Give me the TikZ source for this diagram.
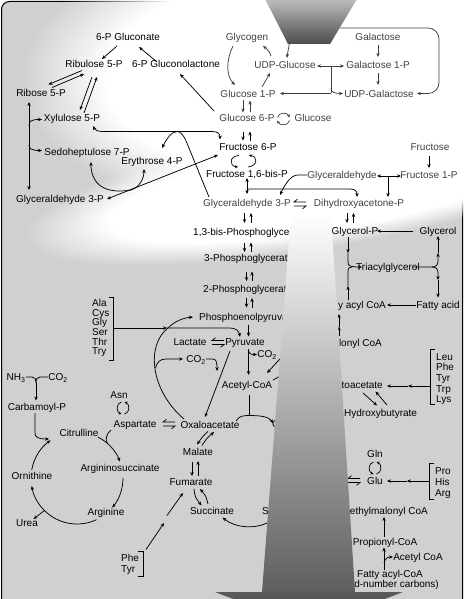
\documentclass[tikz,border=0pt]{standalone}
\usepackage{fontspec}
\setmainfont{Liberation Sans}
\usetikzlibrary{arrows.meta,fadings,calc}
\definecolor{bg}{HTML}{D0D0D0}
\definecolor{gt}{HTML}{404040}
\definecolor{conebot}{HTML}{5E5E5E}
\definecolor{headtop}{HTML}{5A5A5A}
\definecolor{headbot}{HTML}{454545}
\definecolor{funtop}{HTML}{BEBEBE}
\definecolor{funbot}{HTML}{4C4C4C}
\pgfdeclareradialshading{glowshade}{\pgfpointorigin}{color(0bp)=(white); color(18bp)=(white); color(25bp)=(black); color(50bp)=(black)}
\pgfdeclarefading{glowfade}{\pgfuseshading{glowshade}}
\begin{document}
\begin{tikzpicture}[x=1pt,y=-1pt,
  >={Stealth[length=4pt,width=3.4pt]},
  lb/.style={font=\fontsize{10}{10}\selectfont, text height=7.2pt, text depth=0pt, inner sep=1pt},
  gl/.style={lb, text=gt},
  ln/.style={line width=0.75pt},
  arr/.style={ln,->},
  darr/.style={ln,<->},
  garr/.style={arr,draw=gt},
  gln/.style={ln,draw=gt},
  gdarr/.style={darr,draw=gt},
  sarr/.style={line width=0.7pt,-{Stealth[length=3pt,width=2.8pt]}},
  eqp/.pic={\draw[line width=0.7pt] (6,-2) -- (-6,-2) -- (-2.5,-4.8);
            \draw[line width=0.7pt] (-6,2) -- (6,2) -- (2.5,4.8);},
  cycv/.pic={\draw[sarr] (-1.5,-6) .. controls (-7,-5) and (-7,4) .. (-1.5,6);
             \draw[sarr] (1.5,6) .. controls (7,5) and (7,-4) .. (1.5,-6);},
  cych/.pic={\draw[sarr] (-6,-1.5) .. controls (-5,-7) and (4,-7) .. (6,-1.5);
             \draw[sarr] (6,1.5) .. controls (5,7) and (-4,7) .. (-6,1.5);}
]
\useasboundingbox (0,0) rectangle (465,599);
% background
\fill[white] (0,0) rectangle (465,599);
\fill[bg, rounded corners=8] (1.5,612) -- (1.5,1.5) -- (462.5,1.5) -- (462.5,612) -- cycle;
\draw[line width=1pt, rounded corners=8] (1.5,612) -- (1.5,1.5) -- (462.5,1.5) -- (462.5,612);
% glows
\fill[white, path fading=glowfade] (330,78) ellipse [x radius=310, y radius=150];
\begin{scope}[transform canvas={rotate around={10:(330,184)}}]
\fill[white, path fading=glowfade] (330,184) ellipse [x radius=310, y radius=62];
\end{scope}

% ---------------- nodes
\node[gl] (glycogen) at (247,37) {Glycogen};
\node[gl] (udpglc) at (285,65) {UDP-Glucose};
\node[gl] (galactose) at (378,37) {Galactose};
\node[gl] (gal1p) at (378,65) {Galactose 1-P};
\node[gl] (udpgal) at (379,94) {UDP-Galactose};
\node[gl] (g1p) at (248,94) {Glucose 1-P};
\node[gl] (g6p) at (247,118) {Glucose 6-P};
\node[gl] (glucose) at (313,118) {Glucose};
\node[lb] (pgn) at (128,37) {6-P Gluconate};
\node[lb] (ru5p) at (94,64) {Ribulose 5-P};
\node[lb] (pgl) at (176,64) {6-P Gluconolactone};
\node[lb] (r5p) at (41,93) {Ribose 5-P};
\node[lb] (xu5p) at (72,118) {Xylulose 5-P};
\node[lb] (s7p) at (87,152) {Sedoheptulose 7-P};
\node[lb] (e4p) at (152,161) {Erythrose 4-P};
\node[lb] (g3pl) at (60,199) {Glyceraldehyde 3-P};
\node[lb] (f6p) at (248,147) {Fructose 6-P};
\node[lb] (f16bp) at (247,174) {Fructose 1,6-bis-P};
\node[gl] (g3p) at (247,203) {Glyceraldehyde 3-P};
\node[gl] (dhap) at (359,203) {Dihydroxyacetone-P};
\node[gl] (glyald) at (342,175) {Glyceraldehyde};
\node[gl] (f1p) at (429,175) {Fructose 1-P};
\node[gl] (fru) at (430,147) {Fructose};
\node[lb,anchor=west] (bpg) at (192,232) {1,3-bis-Phosphoglycer};
\node[lb,anchor=west] (pg3) at (203,258) {3-Phosphoglycerat};
\node[lb,anchor=west] (pg2) at (202,289) {2-Phosphoglycerat};
\node[lb,anchor=west] (pep) at (198,317) {Phosphoenolpyruva};
\node[lb] (glyp) at (355,231) {Glycerol-P};
\node[lb] (glycerol) at (438,231) {Glycerol};
\node[lb] (tag) at (388,267) {Triacylglycerol};
\node[lb,anchor=east] (acyl) at (387,305) {y acyl CoA};
\node[lb] (fa) at (438,305) {Fatty acid};
\node[lb,anchor=east] (malonyl) at (383,343) {lonyl CoA};
\node[lb] (pyr) at (245,342) {Pyruvate};
\node[lb] (lac) at (190,342) {Lactate};
\node[lb] (co2a) at (196,359) {CO\textsubscript{2}};
\node[lb] (co2b) at (267,354) {CO\textsubscript{2}};
\node[lb] (accoa) at (247,385) {Acetyl-CoA};
\node[lb,anchor=east] (acac) at (384,385) {toacetate};
\node[lb,anchor=west] (hbut) at (343,413) {Hydroxybutyrate};
\node[lb,anchor=west] (leu) at (435,356.5) {Leu};
\node[lb,anchor=west] (phea) at (435,367.2) {Phe};
\node[lb,anchor=west] (tyra) at (435,377.9) {Tyr};
\node[lb,anchor=west] (trp) at (435,388.6) {Trp};
\node[lb,anchor=west] (lys) at (435,399.3) {Lys};
\node[lb] (gln) at (375,454) {Gln};
\node[lb] (glu) at (375,481) {Glu};
\node[lb,anchor=west] (pro) at (434,470.7) {Pro};
\node[lb,anchor=west] (his) at (434,481.5) {His};
\node[lb,anchor=west] (arga) at (434,492.5) {Arg};
\node[lb,anchor=east] (mmcoa) at (429,511) {ethylmalonyl CoA};
\node[lb] (propcoa) at (385,542) {Propionyl-CoA};
\node[lb] (accoa2) at (418,557) {Acetyl CoA};
\node[lb] (facoa) at (390,574) {Fatty acyl-CoA};
\node[lb,anchor=east] (odd) at (440,584) {d-number carbons)};
\node[lb] (succ) at (212,511) {Succinate};
\node[lb,anchor=west] (succs) at (261,511) {S};
\node[lb] (fum) at (191,482) {Fumarate};
\node[lb] (mal) at (198,452) {Malate};
\node[lb] (oaa) at (210,425) {Oxaloacetate};
\node[lb,anchor=west] (cit) at (271,424) {C};
\node[lb] (asp) at (135,424) {Aspartate};
\node[lb] (asn) at (119,395) {Asn};
\node[lb] (citr) at (79,433) {Citrulline};
\node[lb] (carbp) at (37,407) {Carbamoyl-P};
\node[lb] (nh3) at (16,377) {NH\textsubscript{3}};
\node[lb] (co2c) at (58,377) {CO\textsubscript{2}};
\node[lb] (argsuc) at (120,468) {Argininosuccinate};
\node[lb] (orn) at (32,476) {Ornithine};
\node[lb] (argn) at (106,512) {Arginine};
\node[lb] (urea) at (27,523) {Urea};
\node[lb,anchor=west] (pheb) at (120,558) {Phe};
\node[lb,anchor=west] (tyrb) at (120,569) {Tyr};
\node[lb,anchor=west] (ala) at (91,303) {Ala};
\node[lb,anchor=west] (cys) at (91,312.6) {Cys};
\node[lb,anchor=west] (gly) at (91,322.2) {Gly};
\node[lb,anchor=west] (ser) at (91,331.8) {Ser};
\node[lb,anchor=west] (thr) at (91,341.4) {Thr};
\node[lb,anchor=west] (try) at (91,351) {Try};

% ---------------- glycogen / galactose (grey)
\draw[garr] (233,46) .. controls (226,60) and (226,76) .. (235,85);
\draw[garr] (262,87) -- (270,73);
\draw[garr] (271,56) .. controls (270,52) and (267,49) .. (263,46);
\draw[garr] (290,40) .. controls (288,48) .. (287,58);
\draw[gdarr] (317,66) -- (344,66);
\draw[gln] (331,66) -- (331,93.5);
\draw[garr] (331,93.5) -- (280,93.5);
\draw[garr] (331,88) .. controls (331,92) and (334,93.5) .. (343,93.5);
\draw[garr] (378,45) -- (378,57);
\draw[garr] (378,73) -- (378,85);
\draw[garr, rounded corners=11] (340,28) -- (439,28) -- (439,93.5) -- (417,93.5);
\draw[garr] (243,100.5) -- (243,112.5);
\draw[garr] (250,112.5) -- (250,100.5);
\pic[gt] at (283.5,119) {cych};

% ---------------- pentose phosphate
\draw[arr] (214,111) -- (180,74);
\draw[arr] (157,62) -- (139,47);
\draw[arr] (117,46) -- (102,59);
\draw[arr] (82,70.5) -- (48.5,84.5);
\draw[arr] (52,87.5) -- (84,74);
\draw[arr] (92,77) -- (80,110);
\draw[arr] (84,113) -- (97,77);
\draw[darr] (29,102) -- (29,190);
\draw[arr] (29,126) .. controls (29,121) and (31,119.5) .. (42,119.5);
\draw[arr] (29,145) .. controls (29,149) and (32,150.5) .. (42,150.5);
\draw[darr] (93,126) .. controls (95,130) and (97,131.5) .. (103,131.5) -- (212,131.5) .. controls (218,131.5) and (220,134) .. (220,139.5);
\draw[arr] (209,197) -- (186.5,142) .. controls (183,134) and (180,131.5) .. (177,131.5) .. controls (172,131.5) and (167,138) .. (162,148);
\draw[darr] (107,199) -- (218,155);
\draw[arr] (131,190) .. controls (101,195) and (91,181) .. (91,162);
\draw[arr] (131,190) .. controls (140,187) and (144,178) .. (144,169);

% ---------------- glycolysis
\draw[arr] (243,131.5) -- (243,140.5);
\draw[arr] (250,140.5) -- (250,131.5);
\draw[sarr] (239,155.5) .. controls (229,156) and (229,166) .. (238,167);
\draw[sarr] (248,167) .. controls (258,166) and (258,156) .. (249,155.5);
\draw[darr] (247,178) -- (247,194);
\draw[arr] (247,189) -- (350,189) .. controls (355,189) and (357,191) .. (357,197);
\draw[arr] (307,175) -- (298,175) .. controls (291,175) and (285,184) .. (280,195);
\draw[darr] (377,176) -- (401,176);
\draw[arr] (388,176) -- (388,197);
\draw[arr] (429,156) -- (429,168);
\pic at (300,204) {eqp};
\draw[arr] (244.5,213) -- (244.5,223);
\draw[arr] (251,223) -- (251,213);
\draw[arr] (244.5,242.5) -- (244.5,252);
\draw[arr] (251,252) -- (251,242.5);
\draw[arr] (246.5,271.5) -- (246.5,281);
\draw[arr] (252,281) -- (252,271.5);
\draw[arr] (246.5,298) -- (246.5,307.5);
\draw[arr] (252,307.5) -- (252,298);
\draw[arr] (248.5,324.5) -- (248.5,336.5);

% ---------------- glycerol / lipids
\draw[arr] (347,213) -- (347,223);
\draw[arr] (353.5,223) -- (353.5,213);
\draw[arr] (413,231) -- (377,231);
\draw[arr] (348,237) -- (348,253);
\draw[arr] (348,253) -- (348,262) .. controls (348,266) and (350,267) .. (362,267);
\draw[arr] (348,300) -- (348,286);
\draw[ln] (348,286) -- (348,272) .. controls (348,268) and (349,267) .. (352,267);
\draw[arr] (413,267) -- (432,267) .. controls (436,267) and (438,265) .. (438,261) -- (438,253);
\draw[arr] (438,253) -- (438,236);
\draw[arr] (432,267) .. controls (436,267) and (438,269) .. (438,273) -- (438,280);
\draw[arr] (438,280) -- (438,297.5);
\draw[arr] (416,305) -- (387,305);
\draw[arr] (339,336) -- (339,326.5);
\draw[arr] (339,326.5) -- (339,314);

% ---------------- pyruvate area
\draw[ln] (109,297) -- (113,297) -- (113,360) -- (109,360);
\draw[arr] (113,328) -- (167,328);
\draw[arr] (167,328) -- (230,328) .. controls (236,328) and (239,331) .. (240,337);
\draw[arr] (184,419) .. controls (150,390) and (146,345) .. (168,328) .. controls (175,321) and (183,318) .. (193,317);
\draw[arr] (155.5,368) .. controls (157,362) and (160,359) .. (166,359) -- (183,359);
\draw[arr] (206,359) -- (212,359) .. controls (216,359) and (217,361) .. (217,371);
\draw[arr] (230,351) -- (205,417);
\pic at (218,342.5) {eqp};
\draw[arr] (248.5,349) -- (248.5,375);
\draw[arr] (248.5,350) .. controls (249,354) and (251,354.5) .. (257,354.5);
\draw[arr] (290,348) -- (267,373);
\draw[ln] (273,380) -- (295,368);

% ---------------- TCA
\draw[ln] (249,395) -- (249,415.5);
\draw[arr] (236,421) .. controls (239,416) and (243,415.5) .. (249,415.5) .. controls (262,415.5) and (269,417) .. (273,423);
\draw[arr] (208,431.5) .. controls (203,436) .. (197,444.5);
\draw[arr] (202,445.5) .. controls (207,438) .. (214,432);
\draw[arr] (192,461.5) -- (192,476);
\draw[arr] (198,476) -- (198,461);
\draw[arr] (194,489) .. controls (195,497) .. (201.5,505.5);
\draw[arr] (208,504) .. controls (206,496) .. (200,489);
\draw[arr] (267,523) .. controls (255,529) and (235,528) .. (222.5,517.5);
\draw[ln] (138,551) -- (143,551) -- (143,576) -- (138,576);
\draw[arr] (146,549.5) -- (164,523);
\draw[arr] (167,515.5) -- (183,493);
\pic at (169,424) {eqp};
\pic at (123,408) {cycv};

% ---------------- right amino acids / ketone bodies
\draw[ln] (435,349) -- (430,349) -- (430,404) -- (435,404);
\draw[arr] (430,386) -- (408,386);
\draw[arr] (408,386) -- (387,386);
\draw[arr] (363,393) -- (377,405.5);
\draw[arr] (387,405) -- (375.5,391.5);
\pic at (375,468) {cycv};
\pic at (354,480.5) {eqp};
\draw[ln] (434,463) -- (429,463) -- (429,499) -- (434,499);
\draw[arr] (429,481) -- (407,481);
\draw[arr] (407,481) -- (387,481);
\draw[arr] (384,536.5) -- (384,517);
\draw[arr] (384,570) -- (384,547.5);
\draw[arr] (384,563) .. controls (385,559) and (387,557) .. (393,557);

% ---------------- urea cycle
\coordinate (uc) at (77,478);
\draw[arr] ($(uc)+(-170:46)$) arc[start angle=-170, end angle=-125, radius=46];
\draw[arr] ($(uc)+(-63:46)$) arc[start angle=-63, end angle=-21, radius=46];
\draw[arr] ($(uc)+(0:46)$) arc[start angle=0, end angle=40, radius=46];
\draw[arr] ($(uc)+(65:46)$) arc[start angle=65, end angle=170, radius=46];
\draw[arr] ($(uc)+(135:46)$) -- (33.5,519);
\draw[ln] (26,377) -- (32,377) .. controls (35,377) and (36,379) .. (36,383);
\draw[ln] (48,377) -- (40,377) .. controls (37,377) and (36,379) .. (36,383);
\draw[arr] (36,383) -- (36,400.5);
\draw[arr] (35,413) -- (35,433) .. controls (35,437) and (38,439) .. (49,439);
\draw[ln] (111,430) .. controls (106,434) and (105,440) .. (107.5,443.5);

% ---------------- cone, arrow head and funnel
\shade[top color=white, bottom color=conebot] (291,214) -- (331,214) -- (355,592) -- (262,592) -- cycle;
\shade[top color=headtop, bottom color=headbot] (215,592) -- (403,592) -- (309,628) -- cycle;
\shade[top color=funtop, bottom color=funbot] (265,-1) -- (357,-1) -- (330,44) -- (288,44) -- cycle;
\end{tikzpicture}
\end{document}
